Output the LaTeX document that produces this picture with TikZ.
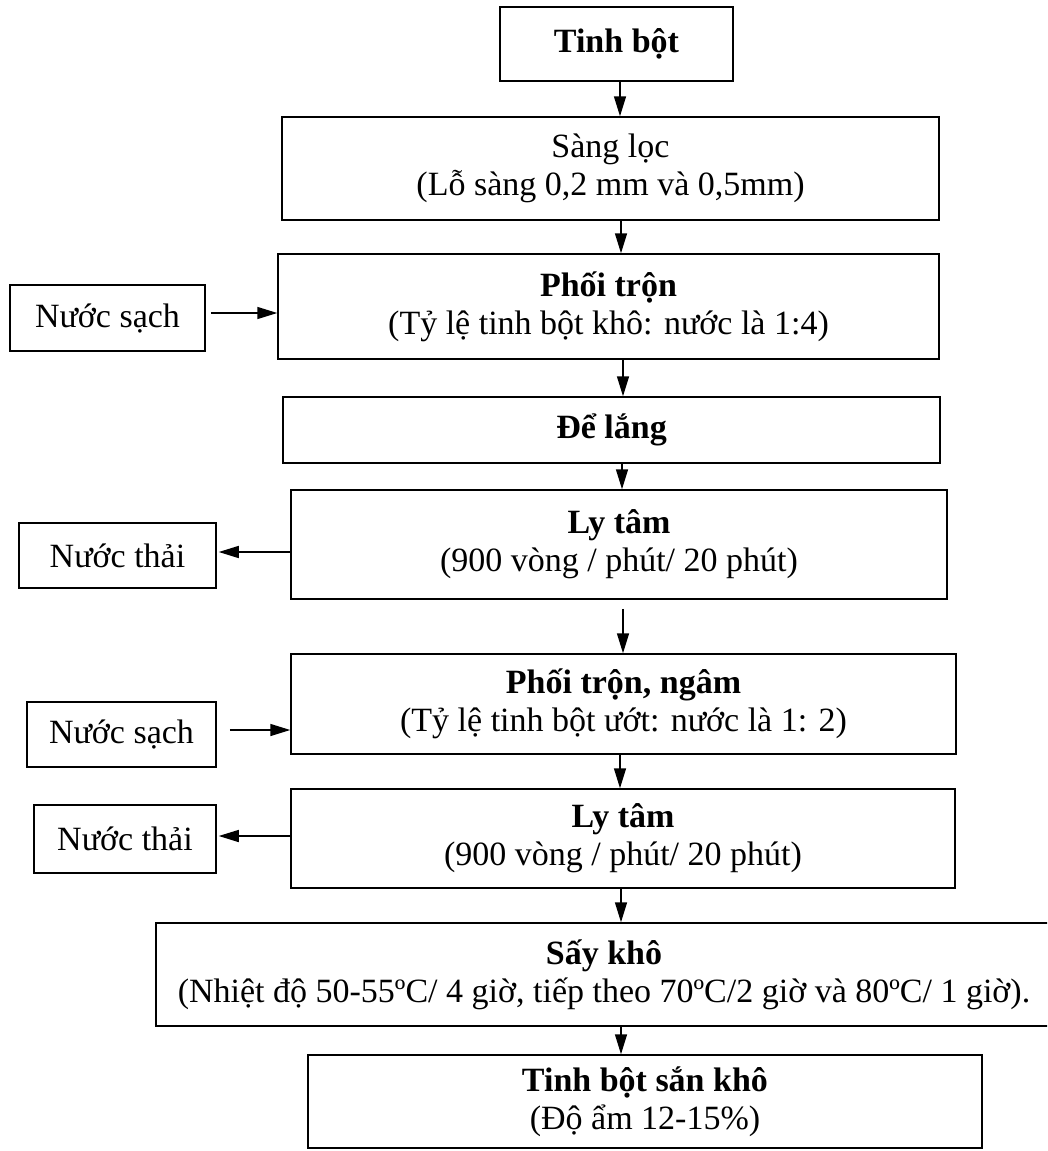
\documentclass[tikz,border=0pt]{standalone}
\usepackage{fontspec}
\setmainfont{Liberation Serif}
\usetikzlibrary{arrows.meta}
\begin{document}
\begin{tikzpicture}[x=1pt,y=-1pt,
  box/.style={draw, line width=1.5pt, align=center, inner sep=0pt,
    font=\fontsize{34}{38}\selectfont},
  arr/.style={line width=1.5pt, -{Triangle[length=20pt,width=12pt]}},
]
\useasboundingbox (0,0) rectangle (1047,1151);
\fill[white] (0,0) rectangle (1047,1151);
\clip (0,0) rectangle (1047,1151);

% main process steps
\node[box, minimum width=233pt, minimum height=74pt]  (tb)  at (616.5,44)   {\textbf{Tinh bột}};
\node[box, minimum width=657pt, minimum height=103pt] (sl)  at (610.5,168.5) {Sàng lọc\\(Lỗ sàng 0,2 mm và 0,5mm)};
\node[box, minimum width=661pt, minimum height=105pt] (pt)  at (608.5,306.5) {\textbf{Phối trộn}\\(Tỷ lệ tinh bột khô: nước là 1:4)};
\node[box, minimum width=657pt, minimum height=66pt]  (dl)  at (611.5,430)   {\textbf{Để lắng}};
\node[box, minimum width=656pt, minimum height=109pt] (lt1) at (619,544.5)   {\textbf{Ly tâm}\\(900 vòng / phút/ 20 phút)};
\node[box, minimum width=665pt, minimum height=100pt] (ptn) at (623.5,704)   {\textbf{Phối trộn, ngâm}\\(Tỷ lệ tinh bột ướt: nước là 1: 2)};
\node[box, minimum width=664pt, minimum height=99pt]  (lt2) at (623,838.5)   {\textbf{Ly tâm}\\(900 vòng / phút/ 20 phút)};
\node[box, minimum width=896pt, minimum height=103pt] (sk)  at (604,974.5)   {\textbf{Sấy khô}\\(Nhiệt độ 50-55ºC/ 4 giờ, tiếp theo 70ºC/2 giờ và 80ºC/ 1 giờ).};
\node[box, minimum width=674pt, minimum height=93pt]  (fin) at (645,1101.5)  {\textbf{Tinh bột sắn khô}\\(Độ ẩm 12-15\%)};

% water in / waste water out
\node[box, minimum width=195pt, minimum height=66pt] (ns1) at (107.5,318)   {Nước sạch};
\node[box, minimum width=197pt, minimum height=65pt] (nt1) at (117.5,555.5) {Nước thải};
\node[box, minimum width=189pt, minimum height=65pt] (ns2) at (121.5,734.5) {Nước sạch};
\node[box, minimum width=182pt, minimum height=68pt] (nt2) at (125,839)     {Nước thải};

% vertical flow
\coordinate (v1) at (620,0);
\coordinate (v2) at (621,0);
\coordinate (v3) at (623,0);
\coordinate (v4) at (622,0);
\coordinate (v5) at (623,0);
\coordinate (v6) at (620,0);
\coordinate (v7) at (621,0);
\coordinate (v8) at (621,0);
\draw[arr] (tb.south -| v1) -- (sl.north -| v1);
\draw[arr] (sl.south -| v2) -- (pt.north -| v2);
\draw[arr] (pt.south -| v3) -- (dl.north -| v3);
\draw[arr] (dl.south -| v4) -- (lt1.north -| v4);
\draw[arr, shorten <=9pt] (lt1.south -| v5) -- (ptn.north -| v5);
\draw[arr] (ptn.south -| v6) -- (lt2.north -| v6);
\draw[arr] (lt2.south -| v7) -- (sk.north -| v7);
\draw[arr] (sk.south -| v8) -- (fin.north -| v8);

% side flows
\coordinate (h1) at (0,313);
\coordinate (h2) at (0,552);
\coordinate (h3) at (0,730);
\coordinate (h4) at (0,836);
\draw[arr, shorten <=5pt] (ns1.east |- h1) -- (pt.west |- h1);
\draw[arr, shorten >=2pt] (lt1.west |- h2) -- (nt1.east |- h2);
\draw[arr, shorten <=13pt] (ns2.east |- h3) -- (ptn.west |- h3);
\draw[arr, shorten >=2pt] (lt2.west |- h4) -- (nt2.east |- h4);
\end{tikzpicture}
\end{document}
